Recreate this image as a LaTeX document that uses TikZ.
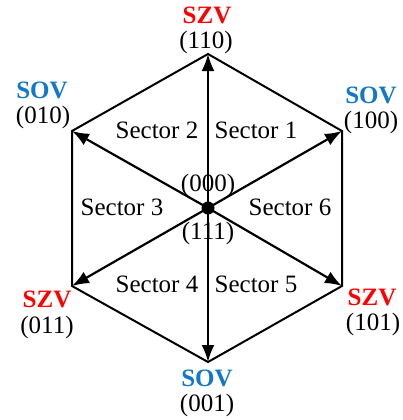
\documentclass[tikz,border=0pt]{standalone}
\usepackage{fontspec}
\setmainfont{Liberation Serif}
\usetikzlibrary{arrows.meta}
\definecolor{sovblue}{RGB}{20,120,200}
\definecolor{szvred}{RGB}{255,0,0}
\begin{document}
\begin{tikzpicture}[x=1pt,y=-1pt,
  vec/.style={line width=2.2pt,-{Latex[length=17pt,width=13pt]}},
  edge/.style={line width=2pt,line join=miter},
  txt/.style={font=\fontsize{25}{27}\selectfont,inner sep=0pt},
  szv/.style={txt,text=szvred,font=\fontsize{25}{27}\selectfont\bfseries},
  sov/.style={txt,text=sovblue,font=\fontsize{25}{27}\selectfont\bfseries}]
\useasboundingbox (0,0) rectangle (403,420);
\coordinate (O) at (208,208);
\coordinate (V110) at (208,54);
\coordinate (V100) at (342,131);
\coordinate (V101) at (342,286);
\coordinate (V001) at (208,362);
\coordinate (V011) at (72,286);
\coordinate (V010) at (72,131);
\draw[edge] (V110) -- (V100) -- (V101) -- (V001) -- (V011) -- (V010) -- cycle;
\foreach \v in {V110,V100,V101,V001,V011,V010}
  \draw[vec] (O) -- (\v);
\fill (O) circle (6.5pt);
% labels
\node[szv] (l110) at (207,15) {SZV};
\node[txt] (c110) at (206,42) {(110)};
\node[sov] (l010) at (42,90) {SOV};
\node[txt] (c010) at (43,117) {(010)};
\node[sov] (l100) at (371,95) {SOV};
\node[txt] (c100) at (371,122) {(100)};
\node[szv] (l011) at (47,299) {SZV};
\node[txt] (c011) at (47,327) {(011)};
\node[szv] (l101) at (372,297) {SZV};
\node[txt] (c101) at (373,324) {(101)};
\node[sov] (l001) at (207,378) {SOV};
\node[txt] (c001) at (207,405) {(001)};
\node[txt] (c000) at (208,185) {(000)};
\node[txt] (c111) at (208,233) {(111)};
% sectors
\node[txt] (s1) at (256,130) {Sector 1};
\node[txt] (s2) at (157,130) {Sector 2};
\node[txt] (s3) at (122,207) {Sector 3};
\node[txt] (s4) at (157,284) {Sector 4};
\node[txt] (s5) at (256,284) {Sector 5};
\node[txt] (s6) at (290,207) {Sector 6};
\end{tikzpicture}
\end{document}
